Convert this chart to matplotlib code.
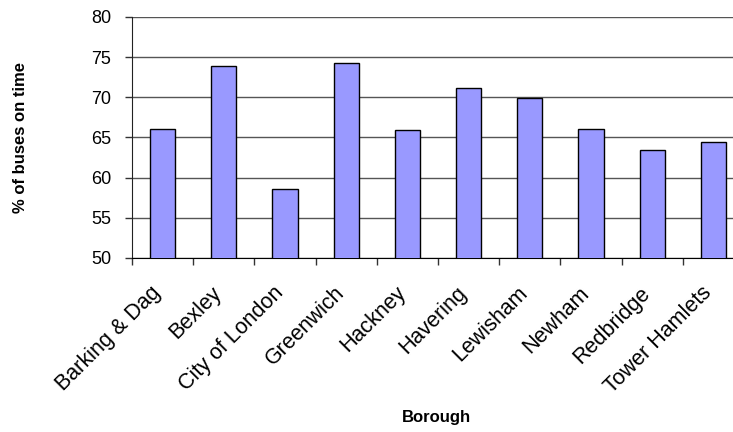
import matplotlib.pyplot as plt
import matplotlib.transforms as mtransforms
import numpy as np

plt.rcParams['font.family'] = ['Liberation Sans', 'DejaVu Sans']

boroughs = ['Barking & Dag', 'Bexley', 'City of London', 'Greenwich', 'Hackney',
            'Havering', 'Lewisham', 'Newham', 'Redbridge', 'Tower Hamlets']
on_time = [66.1, 73.9, 58.6, 74.3, 65.9, 71.2, 69.9, 66.1, 63.5, 64.4]
y_ticks = [50, 55, 60, 65, 70, 75, 80]

fig = plt.figure(figsize=(7.33, 4.32), dpi=100)
ax = fig.add_axes([0.180, 0.4028, 0.835, 0.5579])

x = np.arange(len(boroughs))
ax.bar(x, on_time, width=0.41, color='#9999FF', edgecolor='black', linewidth=1.0, zorder=3)

ax.set_xlim(-0.5, len(boroughs) - 0.5)
ax.set_ylim(50, 80)
ax.set_yticks(y_ticks)
ax.yaxis.grid(True, color='#555555', linewidth=1.0, zorder=0)
ax.tick_params(axis='y', labelsize=13, length=5, width=1, color='#333333', pad=10)

# labels in the middle of each category, tick marks on the boundaries
ax.set_xticks(x)
ax.set_xticklabels(boroughs, rotation=45, ha='right', va='center',
                   rotation_mode='anchor', fontsize=15.5)
ax.tick_params(axis='x', which='major', length=0, pad=23)
shift = mtransforms.ScaledTranslation(-5 / 100, 0, fig.dpi_scale_trans)
for lbl in ax.get_xticklabels():
    lbl.set_transform(lbl.get_transform() + shift)
ax.set_xticks(np.arange(len(boroughs) + 1) - 0.5, minor=True)
ax.tick_params(axis='x', which='minor', length=5, width=1, color='#333333')

for side in ['top', 'right']:
    ax.spines[side].set_visible(False)
ax.spines['left'].set_color('#222222')
ax.spines['bottom'].set_color('black')

ax.set_xlabel('Borough', fontsize=12, fontweight='bold')
ax.set_ylabel('% of buses on time', fontsize=12, fontweight='bold')
ax.xaxis.set_label_coords(0.596, 0.051, transform=fig.transFigure)
ax.yaxis.set_label_coords(0.038, 0.682, transform=fig.transFigure)

fig.savefig('out.png', dpi=100)
